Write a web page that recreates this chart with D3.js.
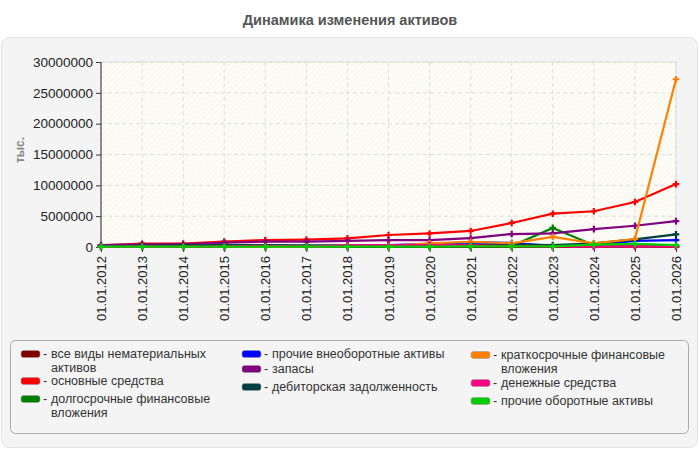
<!DOCTYPE html>
<html>
<head>
    <meta charset="utf-8">
    <style>
        body {
            margin: 0;
            background: #fff;
            font-family: 'Liberation Sans', Arial, sans-serif;
        }
        svg {
            display: block;
        }
        .title {
            font-size: 14.5px;
            font-weight: bold;
            fill: #555;
        }
        .axis text {
            font-size: 13.5px;
            fill: #222;
        }
        .axis .domain, .axis .tick line {
            stroke: #333;
        }
        .grid line {
            stroke: #ddd;
            stroke-dasharray: 4 3;
        }
        .ylab {
            font-size: 12px;
            font-weight: bold;
            fill: #888;
        }
        .leg text {
            font-size: 12.5px;
            fill: #333;
        }
    </style>
</head>
<body>
<svg width="700" height="450"></svg>

<script src="https://cdnjs.cloudflare.com/ajax/libs/d3/7.8.5/d3.min.js"></script>
<script>
    // dates on the x axis
    let years = ["01.01.2012", "01.01.2013", "01.01.2014", "01.01.2015", "01.01.2016",
        "01.01.2017", "01.01.2018", "01.01.2019", "01.01.2020", "01.01.2021",
        "01.01.2022", "01.01.2023", "01.01.2024", "01.01.2025", "01.01.2026"];

    // values, тыс.
    let intangibles     = [0, 0, 0, 0, 0, 0, 0, 0, 0, 0, 0, 0, 50000, 80000, 30000];
    let fixedAssets     = [250000, 540000, 560000, 870000, 1130000, 1200000, 1400000, 1950000, 2200000, 2600000, 3900000, 5400000, 5800000, 7300000, 10200000];
    let longTermFin     = [100000, 100000, 100000, 100000, 100000, 100000, 100000, 100000, 100000, 120000, 150000, 3100000, 300000, 200000, 150000];
    let otherNonCurrent = [0, 0, 0, 0, 0, 0, 100000, 300000, 500000, 750000, 650000, 200000, 400000, 1000000, 1100000];
    let inventory       = [320000, 430000, 430000, 700000, 870000, 870000, 1000000, 1100000, 1130000, 1450000, 2100000, 2200000, 2900000, 3450000, 4200000];
    let receivables     = [150000, 200000, 250000, 300000, 300000, 250000, 250000, 300000, 300000, 350000, 400000, 300000, 600000, 1250000, 2050000];
    let shortTermFin    = [0, 0, 0, 0, 0, 0, 150000, 200000, 600000, 850000, 600000, 1650000, 600000, 1300000, 27200000];
    let cash            = [50000, 50000, 50000, 100000, 200000, 100000, 250000, 300000, 300000, 250000, 150000, 100000, 50000, 150000, 50000];
    let otherCurrent    = [50000, 50000, 50000, 50000, 50000, 50000, 50000, 50000, 50000, 100000, 100000, 100000, 400000, 500000, 300000];

    let yTicks = [0, 5000000, 10000000, 15000000, 20000000, 25000000, 30000000];

    let series = [
        { name: ["все виды нематериальных", "активов"], color: "#800000", values: intangibles },
        { name: ["основные средства"], color: "#ff0000", values: fixedAssets },
        { name: ["долгосрочные финансовые", "вложения"], color: "#008000", values: longTermFin },
        { name: ["прочие внеоборотные активы"], color: "#0000ff", values: otherNonCurrent },
        { name: ["запасы"], color: "#800080", values: inventory },
        { name: ["дебиторская задолженность"], color: "#004040", values: receivables },
        { name: ["краткосрочные финансовые", "вложения"], color: "#ff8000", values: shortTermFin },
        { name: ["денежные средства"], color: "#ff0080", values: cash },
        { name: ["прочие оборотные активы"], color: "#00cc00", values: otherCurrent }
    ];

    let svg = d3.select("svg");

    let margin = { top: 62, right: 24, bottom: 203, left: 101 };
    let width = 700 - margin.left - margin.right;
    let height = 450 - margin.top - margin.bottom;

    // title
    svg.append("text")
        .attr("class", "title")
        .attr("x", 350)
        .attr("y", 25)
        .attr("text-anchor", "middle")
        .text("Динамика изменения активов");

    // panel
    svg.append("rect")
        .attr("x", 1.5).attr("y", 37.5)
        .attr("width", 696).attr("height", 410)
        .attr("rx", 8)
        .attr("fill", "#f4f4f4")
        .attr("stroke", "#e2e2e2");

    // hatch for plot background
    let defs = svg.append("defs");
    let pat = defs.append("pattern")
        .attr("id", "hatch")
        .attr("patternUnits", "userSpaceOnUse")
        .attr("width", 4).attr("height", 4)
        .attr("patternTransform", "rotate(45)");
    pat.append("rect").attr("width", 4).attr("height", 4).attr("fill", "#fdfdf6");
    pat.append("line").attr("x1", 0).attr("y1", 0).attr("x2", 0).attr("y2", 4)
        .attr("stroke", "#efefea").attr("stroke-width", 1);

    let g = svg.append("g")
        .attr("transform", `translate(${margin.left},${margin.top})`);

    g.append("rect")
        .attr("width", width)
        .attr("height", height)
        .attr("fill", "url(#hatch)")
        .attr("stroke", "#ddd");

    let x = d3.scalePoint()
        .domain(years)
        .range([0, width]);

    let y = d3.scaleLinear()
        .domain([0, 30000000])
        .range([height, 0]);

    // grid
    g.append("g")
        .attr("class", "grid")
        .selectAll("line.v")
        .data(years)
        .join("line")
        .attr("x1", d => x(d)).attr("x2", d => x(d))
        .attr("y1", 0).attr("y2", height);

    g.append("g")
        .attr("class", "grid")
        .selectAll("line.h")
        .data(yTicks)
        .join("line")
        .attr("x1", 0).attr("x2", width)
        .attr("y1", d => y(d)).attr("y2", d => y(d));

    // axes
    g.append("g")
        .attr("class", "axis")
        .call(d3.axisLeft(y).tickValues(yTicks).tickSize(5).tickPadding(3).tickFormat(d3.format("d")))
        .call(a => a.select(".domain").attr("d", `M0,${height}V0`));

    g.append("g")
        .attr("class", "axis")
        .attr("transform", `translate(0,${height})`)
        .call(d3.axisBottom(x).tickSize(5).tickPadding(4))
        .call(a => a.select(".domain").attr("d", `M0,0H${width}`))
        .selectAll("text")
        .attr("transform", "rotate(-90)")
        .attr("text-anchor", "end")
        .attr("dy", "0.35em")
        .attr("x", -9)
        .attr("y", 0)
        .style("font-size", "13px");

    // y label
    svg.append("text")
        .attr("class", "ylab")
        .attr("transform", "translate(24,150) rotate(-90)")
        .attr("text-anchor", "middle")
        .text("тыс.");

    // lines
    let line = d3.line()
        .x((d, i) => x(years[i]))
        .y(d => y(d));

    let lines = g.append("g");
    series.forEach(s => {
        lines.append("path")
            .attr("d", line(s.values))
            .attr("fill", "none")
            .attr("stroke", s.color)
            .attr("stroke-width", 2.2);
        lines.selectAll(null)
            .data(s.values)
            .join("path")
            .attr("transform", (d, i) => `translate(${x(years[i])},${y(d)})`)
            .attr("d", d3.symbol(d3.symbolCross, 24))
            .attr("fill", s.color);
    });

    // legend
    svg.append("rect")
        .attr("x", 10.5).attr("y", 340.5)
        .attr("width", 678).attr("height", 93)
        .attr("rx", 5)
        .attr("fill", "#f4f4f4")
        .attr("stroke", "#aaa");

    let legendPos = [
        { col: 21, row: 354 },
        { col: 21, row: 381 },
        { col: 21, row: 399 },
        { col: 242, row: 354 },
        { col: 242, row: 369 },
        { col: 242, row: 387 },
        { col: 471, row: 355 },
        { col: 471, row: 383 },
        { col: 471, row: 401 }
    ];

    let leg = svg.append("g").attr("class", "leg");
    series.forEach((s, i) => {
        let p = legendPos[i];
        leg.append("rect")
            .attr("x", p.col).attr("y", p.row - 3.5)
            .attr("width", 19).attr("height", 7)
            .attr("rx", 2.5)
            .attr("fill", s.color)
            .attr("stroke", "#999")
            .attr("stroke-width", 0.5);
        // one text element per entry, wrapped lines as tspans
        let t = leg.append("text")
            .attr("x", p.col + 22)
            .attr("y", p.row + 3.5);
        t.append("tspan").text("-");
        s.name.forEach((str, j) => {
            t.append("tspan")
                .attr("x", p.col + 30)
                .attr("dy", j === 0 ? 0 : 14)
                .text(str);
        });
    });
</script>
</body>
</html>
